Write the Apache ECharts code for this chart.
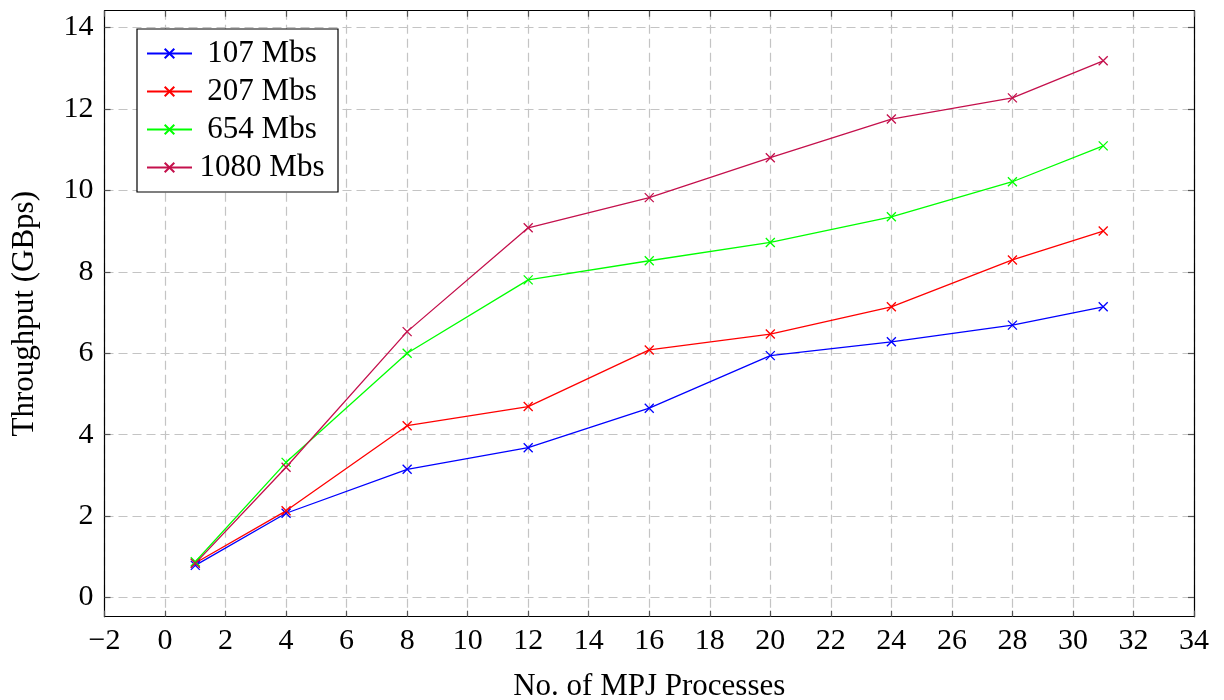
<!DOCTYPE html>
<html>
<head>
<meta charset="utf-8">
<script src="https://cdn.jsdelivr.net/npm/echarts@6/dist/echarts.min.js"></script>
<style>
  html, body { margin: 0; padding: 0; background: #fff; }
  #chart { width: 1224px; height: 700px; }
</style>
</head>
<body>
<div id="chart"></div>
<script>
// datos
const procesos = [1, 4, 8, 12, 16, 20, 24, 28, 31];
const mbs107 = [0.79, 2.07, 3.15, 3.68, 4.65, 5.94, 6.28, 6.69, 7.14];
const mbs207 = [0.85, 2.13, 4.22, 4.69, 6.08, 6.47, 7.14, 8.29, 9.0];
const mbs654 = [0.88, 3.32, 6.0, 7.8, 8.27, 8.72, 9.35, 10.21, 11.09];
const mbs1080 = [0.84, 3.2, 6.53, 9.08, 9.82, 10.8, 11.75, 12.27, 13.18];
const nombres = ['107 Mbs', '207 Mbs', '654 Mbs', '1080 Mbs'];
const colores = ['#0000ff', '#ff0000', '#00ff00', '#c4104c'];
const yTicks = [0, 2, 4, 6, 8, 10, 12, 14];

const fuente = 'Liberation Serif';
const cruz = 'path://M0,0L10,10M10,0L0,10';

function serie(nombre, valores, color) {
  return {
    name: nombre,
    type: 'line',
    data: procesos.map((p, i) => [p, valores[i]]),
    color: color,
    symbol: cruz,
    symbolSize: 9,
    showSymbol: true,
    lineStyle: { color: color, width: 1.3 },
    itemStyle: { color: 'transparent', borderColor: color, borderWidth: 1.3 },
    emphasis: { disabled: true },
    animation: false
  };
}

const gridDash = { type: [9, 5], color: '#c4c4c4', width: 1.2 };
const marco = { show: true, onZero: false, lineStyle: { color: '#000', width: 1.2 } };
const tick = { show: true, inside: true, length: 6, lineStyle: { color: '#555', width: 1.2 } };

const opciones = {
  backgroundColor: '#fff',
  animation: false,
  grid: { left: 104.5, right: 30, top: 10.7, bottom: 83.3, outerBoundsMode: 'none' },
  legend: {
    left: 137, top: 29,
    orient: 'vertical',
    data: nombres,
    backgroundColor: '#fff',
    borderColor: '#000',
    borderWidth: 1.2,
    borderRadius: 0,
    padding: [9, 11, 9, 9],
    itemGap: 7,
    itemWidth: 45,
    itemHeight: 12,
    formatter: n => '{t|' + n + '}',
    textStyle: {
      rich: { t: { fontFamily: fuente, fontSize: 31, color: '#000', width: 130, align: 'center', lineHeight: 30 } }
    }
  },
  xAxis: [
    {
      type: 'value', min: -2, max: 34, interval: 2,
      position: 'bottom',
      name: 'No. of MPJ Processes', nameLocation: 'middle', nameGap: 55,
      nameTextStyle: { fontFamily: fuente, fontSize: 31, color: '#000' },
      axisLine: marco, axisTick: tick,
      axisLabel: { fontFamily: fuente, fontSize: 30, color: '#000', margin: 9,
        formatter: v => String(v).replace('-', '\u2212') },
      splitLine: { show: true, lineStyle: gridDash }
    },
    {
      type: 'value', min: -2, max: 34, interval: 2,
      position: 'top',
      axisLine: marco, axisTick: tick,
      axisLabel: { show: false }, splitLine: { show: false }
    }
  ],
  yAxis: [
    {
      type: 'value', min: -0.47, max: 14.41,
      position: 'left',
      name: 'Throughput (GBps)', nameLocation: 'middle', nameGap: 64,
      nameTextStyle: { fontFamily: fuente, fontSize: 31, color: '#000' },
      axisLine: marco,
      axisTick: Object.assign({}, tick, { customValues: yTicks }),
      axisLabel: { fontFamily: fuente, fontSize: 30, color: '#000', margin: 11, customValues: yTicks },
      splitLine: { show: true, lineStyle: gridDash }
    },
    {
      type: 'value', min: -0.47, max: 14.41,
      position: 'right',
      axisLine: marco,
      axisTick: Object.assign({}, tick, { customValues: yTicks }),
      axisLabel: { show: false, customValues: yTicks }, splitLine: { show: false }
    }
  ],
  series: [
    serie(nombres[0], mbs107, colores[0]),
    serie(nombres[1], mbs207, colores[1]),
    serie(nombres[2], mbs654, colores[2]),
    serie(nombres[3], mbs1080, colores[3])
  ]
};

const miGrafico = echarts.init(document.getElementById('chart'));
miGrafico.setOption(opciones);
</script>
</body>
</html>
